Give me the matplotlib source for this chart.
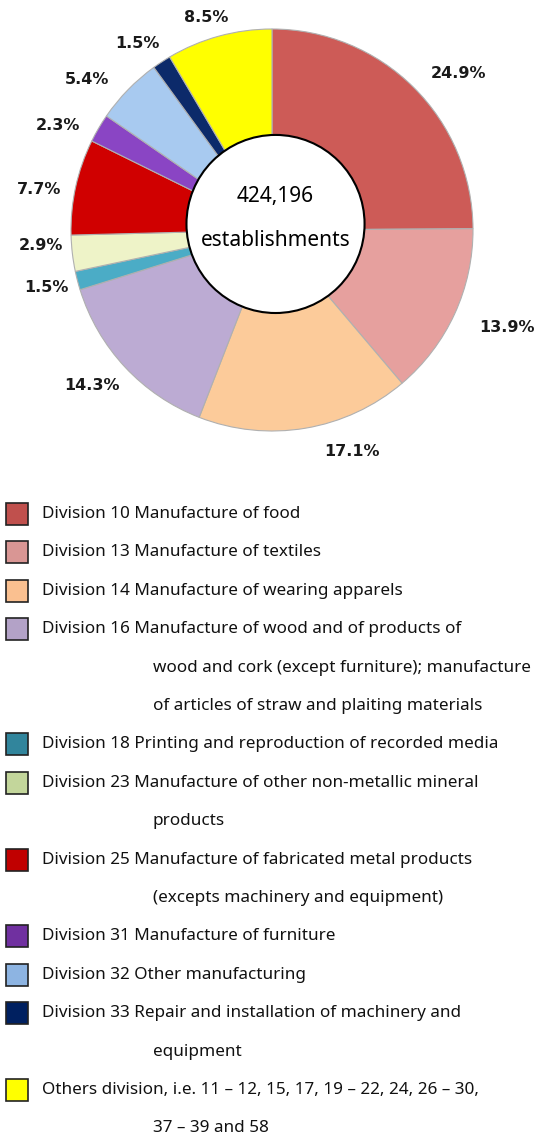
import matplotlib.pyplot as plt
from matplotlib.patches import Rectangle, Circle

# shares of establishments by division (%)
shares = [24.9, 13.9, 17.1, 14.3, 1.5, 2.9, 7.7, 2.3, 5.4, 1.5, 8.5]
pie_colors = ['#CD5B57', '#E6A09E', '#FCCB9A', '#BCABD3', '#4BACC6', '#EEF3C8',
              '#D00000', '#8A45C4', '#A8CAF0', '#0C2A6A', '#FFFF00']
legend_colors = ['#C0504D', '#D99694', '#FAC090', '#B3A2C7', '#31859C', '#C3D69B',
                 '#C00000', '#7030A0', '#8DB4E2', '#002060', '#FFFF00']
legend_lines = [
    ['Division 10 Manufacture of food'],
    ['Division 13 Manufacture of textiles'],
    ['Division 14 Manufacture of wearing apparels'],
    ['Division 16 Manufacture of wood and of products of',
     'wood and cork (except furniture); manufacture',
     'of articles of straw and plaiting materials'],
    ['Division 18 Printing and reproduction of recorded media'],
    ['Division 23 Manufacture of other non-metallic mineral',
     'products'],
    ['Division 25 Manufacture of fabricated metal products',
     '(excepts machinery and equipment)'],
    ['Division 31 Manufacture of furniture'],
    ['Division 32 Other manufacturing'],
    ['Division 33 Repair and installation of machinery and',
     'equipment'],
    ['Others division, i.e. 11 \u2013 12, 15, 17, 19 \u2013 22, 24, 26 \u2013 30,',
     '37 \u2013 39 and 58'],
]
total_text = ['424,196', 'establishments']

# where the percentage labels sit (pixels, like the original Excel layout)
label_xy = [(458, 73), (507, 327), (352, 452), (92, 385), (46, 288), (41, 246),
            (39, 190), (58, 125), (87, 79), (137, 43), (206, 17)]

W, H = 553, 1138
fig = plt.figure(figsize=(W / 100, H / 100), dpi=100)

# pie: center (272, 230) px, radius 201 px
cx, cy, r = 272, 230, 201
ax = fig.add_axes([(cx - r) / W, (H - cy - r) / H, 2 * r / W, 2 * r / H])
wedges, _, autotexts = ax.pie(shares, colors=pie_colors, startangle=90, counterclock=False,
                              autopct='%1.1f%%', pctdistance=1.19,
                              wedgeprops=dict(edgecolor='#B0B0B0', linewidth=0.8))
for t, (px, py) in zip(autotexts, label_xy):
    t.set_position(((px - cx) / r, (cy - py) / r))
    t.set_fontsize(11.5)
    t.set_fontweight('bold')
    t.set_color('#1a1a1a')
ax.add_patch(Circle((0.0175, 0.03), 0.443, facecolor='white', edgecolor='black', lw=1.5, zorder=5))
ax.text(0.0175, 0.165, total_text[0], ha='center', va='center', fontsize=15,
        family='Noto Sans', zorder=6)
ax.text(0.0175, -0.05, total_text[1], ha='center', va='center', fontsize=15,
        family='Noto Sans', zorder=6)
ax.set_xlim(-1, 1)
ax.set_ylim(-1, 1)
ax.set_aspect('equal')

# legend drawn in pixel coordinates
lax = fig.add_axes([0, 0, 1, 1])
lax.set_xlim(0, W)
lax.set_ylim(H, 0)
lax.axis('off')
y = 514
step = 38.4
for color, lines in zip(legend_colors, legend_lines):
    lax.add_patch(Rectangle((6, y - 11), 22, 22, facecolor=color, edgecolor='#222222', lw=1.2))
    for i, line in enumerate(lines):
        x = 42 if i == 0 else 153
        lax.text(x, y, line, ha='left', va='center', fontsize=12.3,
                 family='Noto Sans', color='#111111')
        y += step

fig.savefig('out.png', dpi=100)
